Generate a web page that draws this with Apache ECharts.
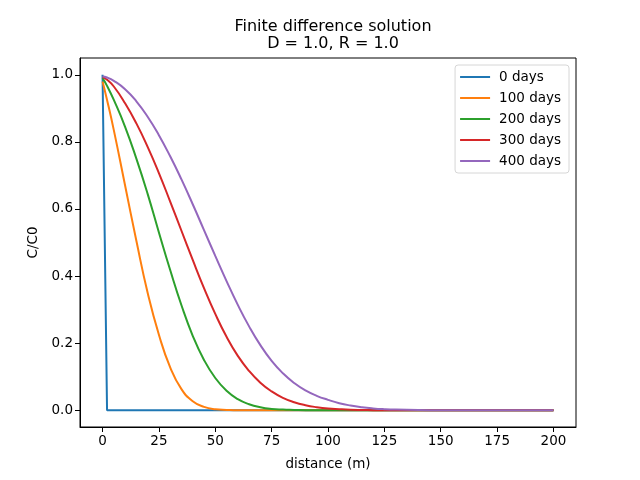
<!DOCTYPE html>
<html>
<head>
<meta charset="utf-8">
<script src="https://cdn.jsdelivr.net/npm/echarts@6/dist/echarts.min.js"></script>
<style>
  html, body { margin: 0; padding: 0; background: #fff; }
  #chart { width: 640px; height: 480px; }
</style>
</head>
<body>
<div id="chart"></div>
<script>
// distance along the column (m)
const distance = [0, 2, 5, 10, 15, 20, 25, 30, 35, 40, 45, 50, 55, 60, 65, 70, 75, 80,
  85, 90, 95, 100, 105, 110, 115, 120, 125, 130, 140, 150, 175, 200];

// C/C0 for each time
const day0 = [1, 0, 0, 0, 0, 0, 0, 0, 0, 0, 0, 0, 0, 0, 0, 0, 0, 0,
  0, 0, 0, 0, 0, 0, 0, 0, 0, 0, 0, 0, 0, 0];
const day100 = [0.98, 0.925, 0.835, 0.67, 0.505, 0.35, 0.225, 0.128, 0.063, 0.027, 0.01, 0.003, 0.001, 0, 0, 0, 0, 0,
  0, 0, 0, 0, 0, 0, 0, 0, 0, 0, 0, 0, 0, 0];
const day200 = [0.99, 0.967, 0.925, 0.845, 0.75, 0.645, 0.53, 0.418, 0.313, 0.222, 0.15, 0.096, 0.058, 0.033, 0.018, 0.009, 0.004, 0.002,
  0.001, 0, 0, 0, 0, 0, 0, 0, 0, 0, 0, 0, 0, 0];
const day300 = [0.993, 0.985, 0.965, 0.915, 0.855, 0.785, 0.707, 0.622, 0.535, 0.448, 0.364, 0.287, 0.219, 0.162, 0.117, 0.082, 0.056, 0.037,
  0.024, 0.015, 0.009, 0.005, 0.003, 0.0015, 0.0008, 0.0003, 0, 0, 0, 0, 0, 0];
const day400 = [0.995, 0.992, 0.982, 0.957, 0.921, 0.875, 0.82, 0.757, 0.688, 0.614, 0.537, 0.46, 0.385, 0.314, 0.25, 0.194, 0.147, 0.11,
  0.081, 0.059, 0.043, 0.031, 0.021, 0.014, 0.009, 0.0055, 0.0032, 0.0018, 0.0005, 0.0001, 0, 0];

const seriesNames = ['0 days', '100 days', '200 days', '300 days', '400 days'];
const seriesValues = [day0, day100, day200, day300, day400];
const colors = ['#1f77b4', '#ff7f0e', '#2ca02c', '#d62728', '#9467bd'];

const xTicks = [0, 25, 50, 75, 100, 125, 150, 175, 200];
const yTicks = [0, 0.2, 0.4, 0.6, 0.8, 1.0];

const font = 'DejaVu Sans';

const chart = echarts.init(document.getElementById('chart'));

const series = seriesNames.map((name, i) => ({
  name: name,
  type: 'line',
  data: distance.map((d, j) => [d, seriesValues[i][j]]),
  symbol: 'none',
  smooth: i === 0 ? false : 0.5,
  lineStyle: { color: colors[i], width: 2 },
  itemStyle: { color: colors[i] },
  z: 2 + i
}));

chart.setOption({
  animation: false,
  color: colors,
  title: {
    text: 'Finite difference solution\nD = 1.0, R = 1.0',
    left: 328,
    top: 13,
    textAlign: 'center',
    textStyle: { fontFamily: font, fontSize: 16, fontWeight: 'normal', color: '#000', lineHeight: 17 }
  },
  grid: {
    left: 80, right: 64, top: 58, bottom: 53,
    show: true, borderColor: '#000', borderWidth: 1,
    containLabel: false
  },
  legend: {
    orient: 'vertical',
    right: 71,
    top: 65,
    icon: 'rect',
    itemWidth: 30,
    itemHeight: 2,
    itemGap: 7,
    padding: [5, 8, 5, 5],
    backgroundColor: '#fff',
    borderColor: '#d6d6d6',
    borderWidth: 1,
    borderRadius: 3,
    textStyle: { fontFamily: font, fontSize: 13.5, color: '#000', padding: [0, 0, 0, 4], lineHeight: 14 },
    data: seriesNames
  },
  xAxis: {
    type: 'value',
    min: -10,
    max: 210,
    name: 'distance (m)',
    nameLocation: 'middle',
    nameGap: 30,
    nameTextStyle: { fontFamily: font, fontSize: 13.5, color: '#000' },
    axisLine: { show: true, onZero: false, lineStyle: { color: '#000' } },
    axisTick: { show: true, length: 5, lineStyle: { color: '#000' }, customValues: xTicks },
    axisLabel: { fontFamily: font, fontSize: 13.5, color: '#000', margin: 7, customValues: xTicks },
    splitLine: { show: false }
  },
  yAxis: {
    type: 'value',
    min: -0.05,
    max: 1.05,
    name: 'C/C0',
    nameLocation: 'middle',
    nameGap: 39,
    nameTextStyle: { fontFamily: font, fontSize: 13.5, color: '#000' },
    axisLine: { show: true, onZero: false, lineStyle: { color: '#000' } },
    axisTick: { show: true, length: 5, lineStyle: { color: '#000' }, customValues: yTicks },
    axisLabel: {
      fontFamily: font, fontSize: 13.5, color: '#000', margin: 7, customValues: yTicks,
      formatter: v => v.toFixed(1)
    },
    splitLine: { show: false }
  },
  series: series
});
</script>
</body>
</html>
